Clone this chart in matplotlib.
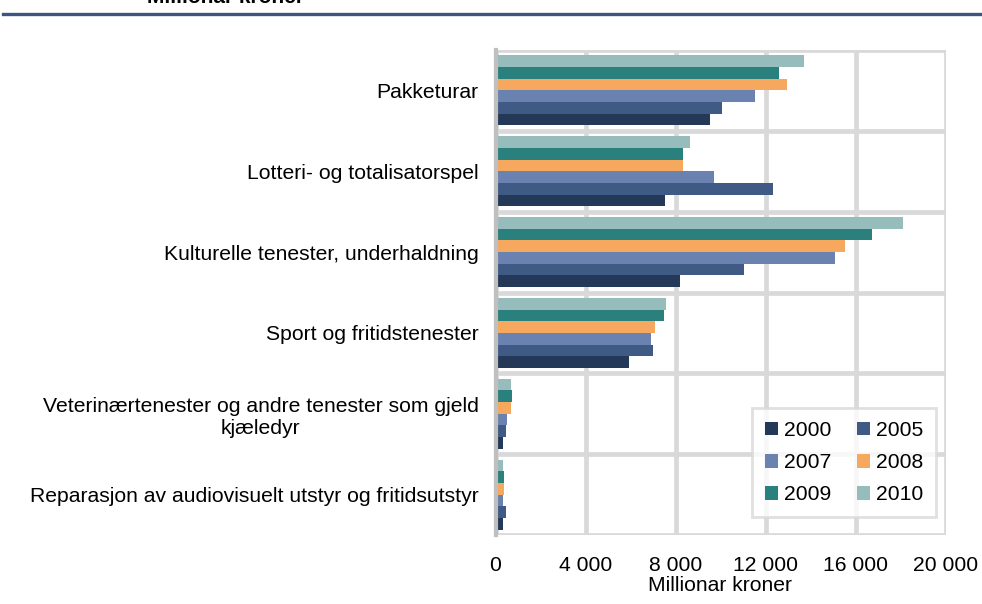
import matplotlib
matplotlib.use("Agg")
import matplotlib.pyplot as plt
from matplotlib.patches import Patch
from matplotlib.ticker import FuncFormatter, MultipleLocator
import numpy as np

plt.rcParams['font.family'] = ['Liberation Sans', 'DejaVu Sans']

categories = [
    "Pakketurar",
    "Lotteri- og totalisatorspel",
    "Kulturelle tenester, underhaldning",
    "Sport og fritidstenester",
    "Veterinærtenester og andre tenester som gjeld\nkjæledyr",
    "Reparasjon av audiovisuelt utstyr og fritidsutstyr",
]
years = ["2000", "2005", "2007", "2008", "2009", "2010"]
v2000 = [9550, 7550, 8190, 5950, 320, 330]
v2005 = [10050, 12350, 11060, 7020, 450, 450]
v2007 = [11530, 9700, 15070, 6930, 510, 350]
v2008 = [12950, 8350, 15530, 7080, 690, 390]
v2009 = [12610, 8350, 16730, 7490, 730, 360]
v2010 = [13720, 8640, 18100, 7560, 700, 350]
series = [v2000, v2005, v2007, v2008, v2009, v2010]
colors = ["#243858", "#3e5a85", "#6a82b0", "#f6a95e", "#2a807c", "#97bcbc"]
xticks = [0, 4000, 8000, 12000, 16000, 20000]
xlabel = "Millionar kroner"
title = "Millionar kroner"

W, H = 982, 604
fig = plt.figure(figsize=(W / 100, H / 100), dpi=100)
ax = fig.add_axes([495.5 / W, 1 - 535 / H, 450 / W, 485 / H])

n = len(categories)
ypos = np.arange(n)[::-1]  # first category at top
bh = 0.1444
for i, (vals, c) in enumerate(zip(series, colors)):
    off = (i - 2.5) * bh
    ax.barh(ypos + off, vals, height=bh, color=c, edgecolor='none', zorder=3)

ax.set_xlim(0, 20000)
ax.set_ylim(-0.5, n - 0.5)
ax.set_xticks(xticks)
ax.xaxis.set_major_formatter(FuncFormatter(lambda v, p: f"{int(v):,}".replace(",", " ")))
ax.set_yticks(ypos)
ax.set_yticklabels(categories, multialignment='center')
ax.yaxis.set_minor_locator(MultipleLocator(1, offset=0.5))
ax.tick_params(axis='both', which='both', length=0, labelsize=15.2, colors='black')
ax.tick_params(axis='y', pad=12)
ax.tick_params(axis='x', pad=15)
ax.grid(True, axis='x', which='major', color='#d9d9d9', linewidth=3.4, zorder=1)
ax.grid(True, axis='y', which='minor', color='#d9d9d9', linewidth=3.4, zorder=1)
for s in ['top', 'right', 'bottom']:
    ax.spines[s].set_visible(False)
ax.spines['left'].set_color('#bfbfbf')
ax.spines['left'].set_linewidth(3.0)
ax.spines['left'].set_zorder(4)
ax.set_xlabel(xlabel, fontsize=15.2, labelpad=1)

handles = [Patch(facecolor=c, edgecolor='none') for c in colors]
order = [0, 2, 4, 1, 3, 5]
leg = ax.legend([handles[i] for i in order], [years[i] for i in order], ncol=2,
                fontsize=15.2, loc='upper left',
                bbox_to_anchor=(752 / W, 1 - 408 / H), bbox_transform=fig.transFigure,
                frameon=True, fancybox=False, handlelength=0.62, handleheight=0.62,
                handletextpad=0.28, columnspacing=1.2, labelspacing=0.62,
                borderpad=0.62, borderaxespad=0)
leg.get_frame().set_edgecolor('#d9d9d9')
leg.get_frame().set_linewidth(2)
leg.set_zorder(5)

# header line and cropped title
fig.add_artist(plt.Line2D([3 / W, 1], [1 - 13.5 / H, 1 - 13.5 / H], color='#3b5580',
                          linewidth=2.4, transform=fig.transFigure))
fig.text(147 / W, 1 - 3 / H, title, fontsize=15, fontweight='bold', va='baseline', ha='left')

fig.savefig("out.png", dpi=100)
